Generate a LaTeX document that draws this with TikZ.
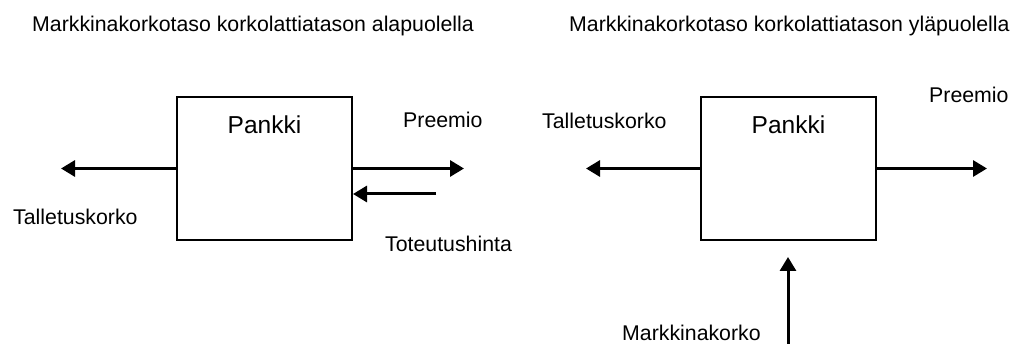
\documentclass[tikz,border=0pt]{standalone}
\usepackage{fontspec}
\setmainfont{Liberation Sans}
\usetikzlibrary{arrows.meta}
\begin{document}
\begin{tikzpicture}[x=1pt,y=-1pt,
  lbl/.style={anchor=base west, inner sep=0pt, font=\fontsize{21.3}{25}\selectfont},
  title/.style={lbl},
  bank/.style={draw, line width=2pt, minimum width=175pt, minimum height=143pt, inner sep=0pt},
  banktext/.style={anchor=base, inner sep=0pt, font=\fontsize{24.5}{29}\selectfont},
  flow/.style={line width=3pt, -{Triangle[length=14pt,width=16pt]}}]
\useasboundingbox (0,0) rectangle (1018,344);

% headings
\node[title] (tL) at (32,32) {Markkinakorkotaso korkolattiatason alapuolella};
\node[title] (tR) at (569,32) {Markkinakorkotaso korkolattiatason yläpuolella};

% left case: market rate below the floor
\node[bank] (L) at (264.5,168.5) {};
\node[banktext] (Lname) at (264.5,134) {Pankki};
\coordinate (Lout1) at (61,169);
\coordinate (Lout2) at (464,169);
\coordinate (Lin) at (436,194);
\draw[flow] (L.west) -- (Lout1 |- L.west);
\draw[flow] (L.east) -- (Lout2 |- L.east);
\draw[flow] (Lin) -- (Lin -| L.east);
\node[lbl] (Ltal) at (13,225) {Talletuskorko};
\node[lbl] (Lpre) at (403,128) {Preemio};
\node[lbl] (Ltot) at (385,252) {Toteutushinta};

% right case: market rate above the floor
\node[bank] (R) at (788.5,168.5) {};
\node[banktext] (Rname) at (788.5,134) {Pankki};
\coordinate (Rout1) at (586,170);
\coordinate (Rout2) at (987,170);
\coordinate (Rbot) at (788,346);
\coordinate (Rtip) at (788,257);
\draw[flow] (R.west) -- (Rout1 |- R.west);
\draw[flow] (R.east) -- (Rout2 |- R.east);
\draw[flow] (Rbot) -- (Rtip);
\node[lbl] (Rtal) at (542,129) {Talletuskorko};
\node[lbl] (Rpre) at (929,103) {Preemio};
\node[lbl] (Rmar) at (622,341) {Markkinakorko};
\end{tikzpicture}
\end{document}
